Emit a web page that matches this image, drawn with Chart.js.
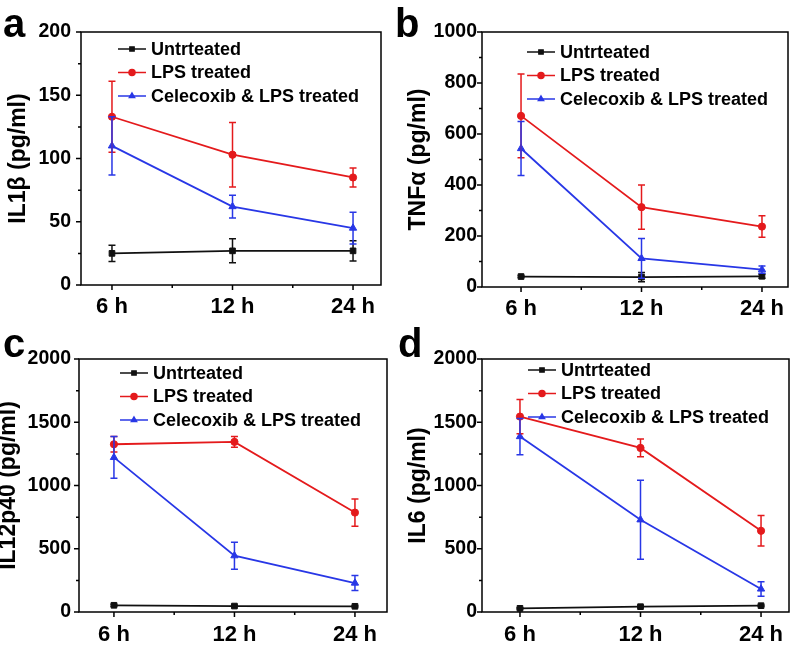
<!DOCTYPE html>
<html>
<head>
<meta charset="utf-8">
<script src="https://cdn.jsdelivr.net/npm/chart.js@4.4.0/dist/chart.umd.min.js"></script>
<style>
body { margin: 0; background: #fff; }
#wrap { position: relative; width: 796px; height: 646px; }
#wrap canvas { position: absolute; }
.tag { position: absolute; font: bold 40px/1 'Liberation Sans', Arial, sans-serif; color: #000; }
</style>
</head>
<body>
<div id="wrap">
  <canvas id="chartA" width="398" height="323" style="left:0;top:0"></canvas>
  <canvas id="chartB" width="398" height="323" style="left:398px;top:0"></canvas>
  <canvas id="chartC" width="398" height="323" style="left:0;top:323px"></canvas>
  <canvas id="chartD" width="398" height="323" style="left:398px;top:323px"></canvas>
  <div class="tag" style="left:3px;top:3px">a</div>
  <div class="tag" style="left:395px;top:3px">b</div>
  <div class="tag" style="left:3px;top:323px">c</div>
  <div class="tag" style="left:398px;top:323px">d</div>
</div>
<script>
var categories = ['6 h', '12 h', '24 h'];
var seriesNames = ['Untrteated', 'LPS treated', 'Celecoxib & LPS treated'];

// a - IL1β
var il1bUntreated = [25, 27, 27];
var il1bUntreatedErr = [6.5, 9.5, 8];
var il1bLps = [133, 103, 85];
var il1bLpsErr = [28, 25.5, 7.5];
var il1bCele = [110, 62, 45];
var il1bCeleErr = [23, 9, 12.5];

// b - TNFα
var tnfUntreated = [41, 39, 42];
var tnfUntreatedErr = [4, 18, 8];
var tnfLps = [671, 313, 237];
var tnfLpsErr = [164, 87, 42];
var tnfCele = [543, 112, 68];
var tnfCeleErr = [106, 78, 14];

// c - IL12p40
var il12Untreated = [53, 47, 45];
var il12UntreatedErr = [8, 6, 6];
var il12Lps = [1326, 1345, 786];
var il12LpsErr = [62, 43, 108];
var il12Cele = [1222, 445, 229];
var il12CeleErr = [165, 107, 60];

// d - IL6
var il6Untreated = [29, 42, 50];
var il6UntreatedErr = [5, 6, 6];
var il6Lps = [1545, 1297, 642];
var il6LpsErr = [135, 70, 120];
var il6Cele = [1387, 729, 182];
var il6CeleErr = [143, 312, 57];

var colors = ['#111111', 'rgb(228,26,28)', 'rgb(40,55,230)'];
var pointStyles = ['rect', 'circle', 'triangle'];
var pointRadii = [4, 3.6, 4.2];

var FONT = "'Liberation Sans', Arial, sans-serif";
Chart.defaults.font.family = FONT;
Chart.defaults.color = '#000';

function drawMarker(ctx, style, r, x, y) {
  if (Chart.helpers && Chart.helpers.drawPoint) {
    Chart.helpers.drawPoint(ctx, {pointStyle: style, radius: r, rotation: 0, borderWidth: 1}, x, y);
  } else {
    ctx.beginPath();
    ctx.arc(x, y, r, 0, Math.PI * 2);
    ctx.fill();
  }
}

var decor = {
  id: 'decor',
  afterDatasetsDraw: function(chart) {
    var ctx = chart.ctx;
    var ys = chart.scales.y;
    chart.data.datasets.forEach(function(ds, i) {
      var meta = chart.getDatasetMeta(i);
      ctx.save();
      ctx.strokeStyle = ds.borderColor;
      ctx.lineWidth = 1.5;
      meta.data.forEach(function(pt, j) {
        var v = ds.data[j].y, e = ds.errors[j];
        var top = ys.getPixelForValue(v + e), bot = ys.getPixelForValue(v - e);
        ctx.beginPath();
        ctx.moveTo(pt.x, top); ctx.lineTo(pt.x, bot);
        ctx.moveTo(pt.x - 3.5, top); ctx.lineTo(pt.x + 3.5, top);
        ctx.moveTo(pt.x - 3.5, bot); ctx.lineTo(pt.x + 3.5, bot);
        ctx.stroke();
      });
      ctx.restore();
    });
  },
  afterDraw: function(chart, args, opts) {
    var ctx = chart.ctx, a = chart.chartArea;
    var xs = chart.scales.x, ys = chart.scales.y;
    ctx.save();
    ctx.strokeStyle = '#000';
    ctx.lineWidth = 1.5;
    ctx.strokeRect(a.left, a.top, a.right - a.left, a.bottom - a.top);
    ctx.beginPath();
    // y ticks
    var yt = ys.ticks;
    yt.forEach(function(t, k) {
      var py = ys.getPixelForValue(t.value);
      ctx.moveTo(a.left - 5, py); ctx.lineTo(a.left, py);
      if (k < yt.length - 1) {
        var my = ys.getPixelForValue((t.value + yt[k + 1].value) / 2);
        ctx.moveTo(a.left - 3, my); ctx.lineTo(a.left, my);
      }
    });
    // x ticks
    categories.forEach(function(c, k) {
      var px = xs.getPixelForValue(k + 1);
      ctx.moveTo(px, a.bottom); ctx.lineTo(px, a.bottom + 5);
      if (k < categories.length - 1) {
        var mx = xs.getPixelForValue(k + 1.5);
        ctx.moveTo(mx, a.bottom); ctx.lineTo(mx, a.bottom + 3);
      }
    });
    ctx.stroke();

    // legend
    ctx.font = 'bold 18px ' + FONT;
    ctx.textBaseline = 'middle';
    ctx.textAlign = 'left';
    chart.data.datasets.forEach(function(ds, i) {
      var x0 = a.left + opts.x, y0 = a.top + opts.y + i * 23.5;
      ctx.strokeStyle = ds.borderColor;
      ctx.fillStyle = ds.borderColor;
      ctx.lineWidth = 1.5;
      ctx.beginPath();
      ctx.moveTo(x0, y0); ctx.lineTo(x0 + 28, y0);
      ctx.stroke();
      drawMarker(ctx, ds.pointStyle, 3, x0 + 14, y0);
      ctx.fillStyle = '#000';
      ctx.fillText(ds.label, x0 + 33, y0 + 1);
    });
    ctx.restore();
  }
};

var panels = [
  {id: 'chartA', title: 'IL1β (pg/ml)', yMax: 200, yStep: 50,
   values: [il1bUntreated, il1bLps, il1bCele], errors: [il1bUntreatedErr, il1bLpsErr, il1bCeleErr],
   box: {l: 81, t: 32, r: 381, b: 285}, xMin: 0.743, xMax: 3.232, labelPad: 10, titlePad: 7.5, xPad: 9, legend: {x: 37, y: 17}},
  {id: 'chartB', title: 'TNFα (pg/ml)', yMax: 1000, yStep: 200,
   values: [tnfUntreated, tnfLps, tnfCele], errors: [tnfUntreatedErr, tnfLpsErr, tnfCeleErr],
   box: {l: 84, t: 32, r: 390, b: 287}, xMin: 0.676, xMax: 3.216, labelPad: 5, titlePad: 9, xPad: 9, legend: {x: 45, y: 20}},
  {id: 'chartC', title: 'IL12p40 (pg/ml)', yMax: 2000, yStep: 500,
   values: [il12Untreated, il12Lps, il12Cele], errors: [il12UntreatedErr, il12LpsErr, il12CeleErr],
   box: {l: 79, t: 36, r: 387, b: 289}, xMin: 0.71, xMax: 3.266, labelPad: 8, titlePad: -2.5, xPad: 10, legend: {x: 41, y: 14}},
  {id: 'chartD', title: 'IL6 (pg/ml)', yMax: 2000, yStep: 500,
   values: [il6Untreated, il6Lps, il6Cele], errors: [il6UntreatedErr, il6LpsErr, il6CeleErr],
   box: {l: 84, t: 36, r: 391, b: 289}, xMin: 0.685, xMax: 3.232, labelPad: 5, titlePad: 9.5, xPad: 10, legend: {x: 46, y: 11}}
];

panels.forEach(function(p) {
  var canvas = document.getElementById(p.id);
  var W = canvas.width, H = canvas.height;
  var datasets = seriesNames.map(function(name, i) {
    return {
      label: name,
      data: p.values[i].map(function(v, j) { return {x: j + 1, y: v}; }),
      errors: p.errors[i],
      borderColor: colors[i],
      backgroundColor: colors[i],
      borderWidth: 1.8,
      pointStyle: pointStyles[i],
      pointRadius: pointRadii[i],
      pointBorderWidth: 1,
      tension: 0
    };
  });

  new Chart(canvas, {
    type: 'line',
    data: {datasets: datasets},
    plugins: [decor],
    options: {
      responsive: false,
      animation: false,
      events: [],
      layout: {padding: {top: p.box.t, right: W - p.box.r, left: 0, bottom: 0}},
      plugins: {
        legend: {display: false},
        tooltip: {enabled: false},
        decor: p.legend
      },
      scales: {
        x: {
          type: 'linear',
          min: p.xMin,
          max: p.xMax,
          grid: {display: false, drawTicks: false, tickLength: 0},
          border: {display: false},
          afterBuildTicks: function(s) {
            s.ticks = categories.map(function(c, i) { return {value: i + 1}; });
          },
          afterFit: function(s) {
            s.height = H - p.box.b;
            s.paddingLeft = 0; s.paddingRight = 0;
          },
          ticks: {
            autoSkip: false,
            maxRotation: 0,
            padding: p.xPad,
            font: {size: 22, weight: 'bold'},
            callback: function(v) { return categories[Math.round(v) - 1]; }
          }
        },
        y: {
          min: 0,
          max: p.yMax,
          grid: {display: false, drawTicks: false, tickLength: 0},
          border: {display: false},
          afterFit: function(s) {
            s.width = p.box.l;
            s.paddingTop = 0; s.paddingBottom = 0;
          },
          ticks: {
            stepSize: p.yStep,
            padding: p.labelPad,
            font: {size: 19.5, weight: 'bold'},
            callback: function(v) { return String(v); }
          },
          title: {
            display: true,
            text: p.title,
            padding: p.titlePad,
            font: {size: 23, weight: 'bold', lineHeight: 1}
          }
        }
      }
    }
  });
});
</script>
</body>
</html>
